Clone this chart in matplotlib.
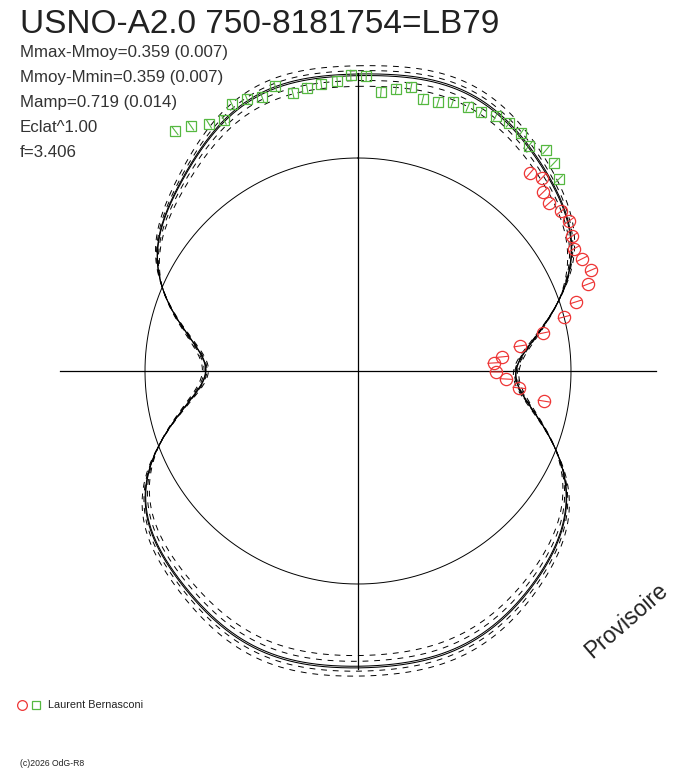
import numpy as np
import matplotlib
matplotlib.use("Agg")
import matplotlib.pyplot as plt

plt.rcParams['font.family'] = ['Liberation Sans', 'DejaVu Sans']

# fourier fit of the light curve (radius, mean circle = 1)
c0 = 1.1765
fcos = [-0.0038, 0.2894, 0.0060, -0.0958, 0.0037, 0.0391, -0.0056, -0.0228]
fsin = [0.0152, 0.0203, 0.0038, -0.0062, -0.0006, 0.0008, -0.0027, 0.0000]

# green squares: phase (deg), radius
g_phase = [322.7, 325.7, 328.9, 331.9, 334.7, 337.8, 340.7, 343.8, 346.8, 349.8,
           352.7, 355.9, 358.6, 1.6, 4.7, 7.7, 10.6, 13.4, 16.6, 19.4,
           22.6, 25.4, 28.4, 31.3, 34.4, 37.2, 40.4, 43.3, 46.3]
g_rad = [1.417, 1.392, 1.354, 1.336, 1.386, 1.379, 1.363, 1.393, 1.340, 1.350,
         1.359, 1.365, 1.390, 1.385, 1.314, 1.336, 1.356, 1.313, 1.317, 1.339,
         1.343, 1.346, 1.361, 1.363, 1.354, 1.327, 1.362, 1.342, 1.305]
g_err = 0.022

# red circles
r_phase = [41.0, 43.6, 46.0, 48.7, 51.8, 54.6, 57.8, 60.5, 63.4, 66.6,
           69.3, 72.4, 75.3, 78.4, 81.2, 84.4, 86.6, 90.4, 93.1, 96.0, 99.2]
r_rad = [1.231, 1.252, 1.208, 1.194, 1.214, 1.215, 1.188, 1.165, 1.176, 1.192,
         1.154, 1.074, 1.000, 0.887, 0.769, 0.679, 0.639, 0.648, 0.696, 0.760, 0.885]
r_err = 0.028

title = "USNO-A2.0 750-8181754=LB79"
info = ["Mmax-Mmoy=0.359 (0.007)", "Mmoy-Mmin=0.359 (0.007)",
        "Mamp=0.719 (0.014)", "Eclat^1.00", "f=3.406"]

W, H = 688, 768
cx, cy, unit = 358, 371, 213.0

fig = plt.figure(figsize=(W / 100, H / 100), dpi=100)
ax = fig.add_axes([0, 0, 1, 1])
ax.set_xlim(-cx / unit, (W - cx) / unit)
ax.set_ylim(-(H - cy) / unit, cy / unit)
ax.axis('off')


def xy(phase_deg, rad):
    a = np.radians(phase_deg)
    return rad * np.sin(a), rad * np.cos(a)


# axes cross and mean circle
L = 1.40
ax.plot([-L, L], [0, 0], color='black', lw=0.9)
ax.plot([0, 0], [-L, L], color='black', lw=0.9)
t = np.linspace(0, 360, 1441)
ax.plot(*xy(t, np.ones_like(t)), color='black', lw=0.7)

# fitted curve and its spread
tr = np.radians(t)
curve = np.full_like(tr, c0)
for k in range(len(fcos)):
    curve += fcos[k] * np.cos((k + 1) * tr) + fsin[k] * np.sin((k + 1) * tr)
dev = curve - 1
w = np.where(dev > 0, 1.0, 0.4)

for s in [0.87, 0.94, 1.06, 1.12]:
    ax.plot(*xy(t, 1 + dev * (1 + (s - 1) * w)), color='black', lw=0.7, dashes=(6, 6))
for s in [1.0, 1.02]:
    ax.plot(*xy(t, 1 + dev * (1 + (s - 1) * w)), color='black', lw=0.75)

# data points with radial error bars
green = '#55b840'
red = '#ee3535'
for ph, rd in zip(g_phase, g_rad):
    ax.plot(*xy(np.array([ph, ph]), np.array([rd - g_err, rd + g_err])), color=green, lw=0.8)
for ph, rd in zip(r_phase, r_rad):
    ax.plot(*xy(np.array([ph, ph]), np.array([rd - r_err, rd + r_err])), color=red, lw=0.8)
gx, gy = xy(np.array(g_phase), np.array(g_rad))
ax.plot(gx, gy, 's', ms=7, mfc='none', mec=green, mew=0.9)
rx, ry = xy(np.array(r_phase), np.array(r_rad))
ax.plot(rx, ry, 'o', ms=8.8, mfc='none', mec=red, mew=0.9)

# texts
fig.text(20 / W, 1 - 33 / H, title, fontsize=24, color='#222222', va='baseline')
for i, line in enumerate(info):
    fig.text(20 / W, 1 - (57 + 25 * i) / H, line, fontsize=12.2, color='#333333', va='baseline')

fig.text(626 / W, 1 - 621 / H, "Provisoire", fontsize=16.5, rotation=41, color='#222222',
         ha='center', va='center')

ax.plot([(22 - cx) / unit], [(cy - 705) / unit], 'o', ms=7, mfc='none', mec=red, mew=0.9)
ax.plot([(36 - cx) / unit], [(cy - 705) / unit], 's', ms=5.5, mfc='none', mec=green, mew=0.9)
fig.text(48 / W, 1 - 708.5 / H, "Laurent Bernasconi", fontsize=7.8, color='#222222', va='baseline')
fig.text(20 / W, 1 - 766 / H, "(c)2026 OdG-R8", fontsize=6.2, color='#222222', va='baseline')

fig.savefig("out.png")
